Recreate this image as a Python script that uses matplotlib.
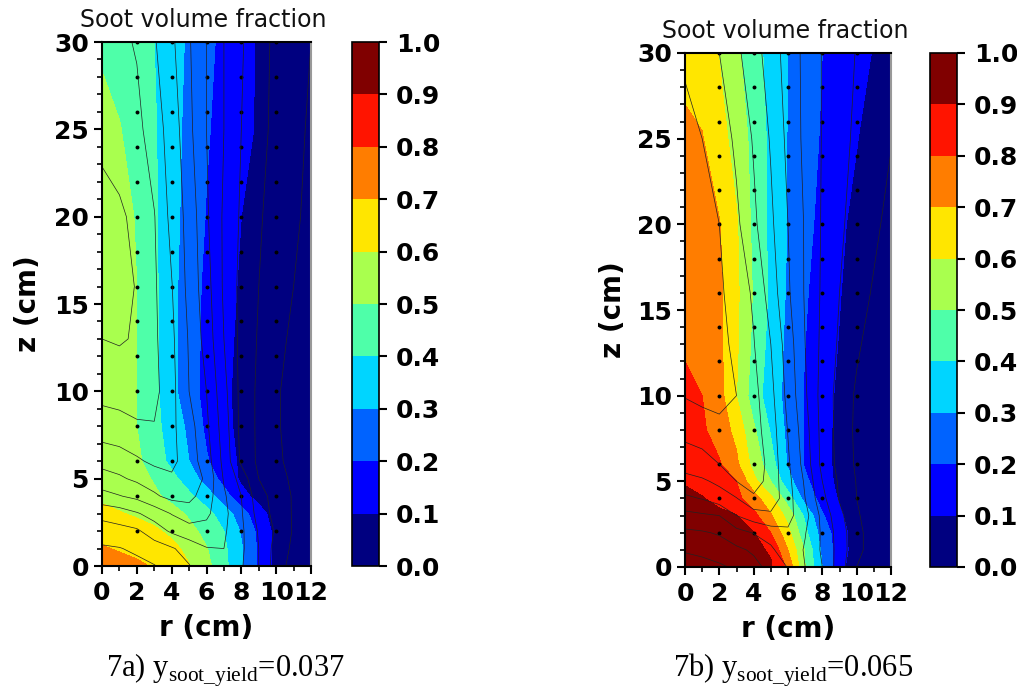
import numpy as np
import matplotlib
matplotlib.use("Agg")
import matplotlib.pyplot as plt
from matplotlib.ticker import MultipleLocator

plt.rcParams['mathtext.fontset'] = 'custom'
plt.rcParams['mathtext.rm'] = 'Liberation Serif:normal'
plt.rcParams['font.family'] = 'DejaVu Sans'
plt.rcParams['font.weight'] = 'bold'
plt.rcParams['axes.labelweight'] = 'bold'

r_grid = [0, 1, 2, 3, 4, 5, 6, 7, 8, 9, 10, 11, 12]
z_grid = [0, 1, 2, 3, 4, 5, 6, 8, 10, 13, 16, 20, 25, 30]
fill_levels = [0.0, 0.1, 0.2, 0.3, 0.4, 0.5, 0.6, 0.7, 0.8, 0.9, 1.0]
line_levels = [0.1, 0.2, 0.3, 0.4, 0.5, 0.6, 0.7, 0.8, 0.9, 1.0]
probe_r = [2, 4, 6, 8, 10]
probe_z = [2, 4, 6, 8, 10, 12, 14, 16, 18, 20, 22, 24, 26, 28, 30]

# 7a) filled field
fill_a = [
    [.76, .74, .72, .69, .65, .605, .53, .43, .31, .185, .07, .03, .02],
    [.71, .69, .67, .645, .625, .575, .505, .42, .31, .185, .07, .03, .02],
    [.66, .645, .63, .615, .58, .53, .47, .40, .29, .175, .07, .03, .02],
    [.62, .605, .59, .565, .54, .485, .43, .355, .245, .135, .06, .03, .02],
    [.585, .57, .55, .52, .47, .42, .35, .24, .13, .07, .04, .03, .02],
    [.59, .57, .54, .49, .43, .35, .26, .165, .085, .05, .03, .02, .02],
    [.59, .565, .52, .45, .375, .30, .21, .14, .085, .05, .03, .02, .02],
    [.59, .57, .50, .43, .355, .28, .18, .12, .08, .05, .03, .02, .01],
    [.59, .575, .50, .425, .33, .24, .17, .115, .08, .05, .03, .02, .01],
    [.59, .58, .50, .42, .33, .245, .175, .12, .085, .055, .03, .02, .01],
    [.59, .58, .50, .42, .33, .245, .18, .13, .09, .06, .035, .02, .01],
    [.57, .55, .49, .415, .335, .26, .195, .145, .10, .07, .04, .02, .01],
    [.52, .505, .46, .41, .34, .27, .21, .165, .125, .09, .05, .03, .015],
    [.49, .46, .43, .40, .34, .285, .225, .175, .13, .09, .05, .03, .015],
]

# 7a) contour lines
line_a = [
    [.22, .25, .27, .295, .34, .395, .46, .47, .41, .30, .15, .06, .04],
    [.285, .295, .32, .355, .39, .44, .495, .50, .42, .30, .16, .08, .05],
    [.355, .37, .385, .45, .515, .56, .565, .515, .42, .29, .185, .09, .05],
    [.43, .45, .49, .54, .605, .65, .62, .53, .41, .26, .165, .09, .05],
    [.567, .595, .625, .685, .73, .73, .65, .515, .40, .24, .16, .09, .05],
    [.658, .685, .72, .75, .785, .77, .68, .49, .36, .20, .14, .08, .05],
    [.733, .75, .785, .82, .825, .75, .65, .47, .28, .18, .12, .07, .04],
    [.856, .87, .89, .895, .82, .74, .62, .45, .27, .18, .11, .07, .04],
    [.93, .935, .94, .93, .83, .70, .60, .43, .27, .18, .11, .07, .04],
    [1.0, 1.01, .99, .92, .82, .69, .56, .40, .27, .19, .13, .08, .04],
    [1.04, 1.03, .995, .915, .805, .67, .54, .385, .27, .20, .15, .10, .05],
    [1.02, 1.01, .985, .905, .77, .665, .515, .385, .285, .21, .165, .12, .07],
    [.985, .97, .93, .845, .76, .625, .50, .40, .30, .23, .175, .13, .085],
    [.94, .925, .89, .81, .72, .61, .50, .40, .31, .235, .18, .14, .10],
]

# 7b) filled field
fill_b = [
    [.99, .98, .97, .95, .93, .91, .78, .50, .30, .13, .04, .02, .01],
    [.98, .97, .95, .93, .92, .89, .70, .49, .275, .15, .05, .02, .01],
    [.97, .95, .93, .915, .905, .80, .63, .425, .255, .145, .05, .02, .01],
    [.95, .935, .92, .905, .83, .71, .565, .38, .21, .115, .05, .02, .01],
    [.915, .905, .875, .825, .745, .625, .45, .26, .165, .09, .05, .02, .01],
    [.895, .87, .835, .80, .63, .50, .335, .22, .135, .08, .04, .02, .01],
    [.87, .855, .81, .72, .565, .44, .29, .19, .125, .08, .04, .02, .01],
    [.84, .815, .755, .67, .515, .39, .275, .19, .125, .08, .04, .02, .01],
    [.82, .80, .735, .60, .45, .35, .27, .19, .13, .085, .05, .02, .01],
    [.79, .77, .72, .615, .475, .365, .275, .20, .145, .095, .05, .02, .01],
    [.78, .76, .72, .62, .49, .38, .285, .21, .155, .105, .055, .02, .01],
    [.77, .74, .705, .61, .475, .375, .295, .23, .17, .12, .07, .03, .01],
    [.72, .705, .64, .56, .47, .375, .295, .24, .19, .14, .105, .05, .02],
    [.67, .65, .595, .52, .44, .365, .30, .25, .20, .165, .13, .095, .04],
]

# 7b) contour lines
line_b = [
    [.25, .265, .285, .315, .37, .43, .505, .50, .40, .25, .10, .05, .03],
    [.31, .325, .35, .38, .415, .48, .57, .49, .385, .26, .125, .06, .03],
    [.38, .39, .41, .465, .505, .55, .585, .505, .385, .255, .125, .06, .03],
    [.47, .485, .50, .60, .655, .68, .63, .535, .37, .23, .11, .06, .03],
    [.58, .605, .655, .695, .78, .76, .64, .50, .33, .19, .10, .06, .03],
    [.667, .685, .72, .80, .85, .76, .63, .485, .30, .185, .095, .06, .03],
    [.736, .76, .80, .85, .865, .765, .615, .46, .27, .17, .085, .05, .03],
    [.835, .85, .87, .885, .84, .75, .595, .44, .265, .165, .08, .05, .03],
    [.905, .925, .935, .90, .83, .73, .57, .415, .26, .165, .085, .05, .03],
    [.94, .935, .925, .88, .805, .70, .55, .40, .275, .185, .115, .06, .03],
    [.96, .94, .915, .86, .785, .655, .515, .39, .285, .20, .14, .09, .05],
    [.96, .94, .90, .82, .72, .62, .50, .39, .29, .215, .165, .12, .07],
    [.93, .90, .855, .78, .69, .59, .475, .375, .295, .235, .18, .14, .105],
    [.885, .86, .80, .72, .645, .55, .46, .375, .295, .245, .195, .155, .125],
]

W, H = 1017, 688
jet10 = plt.get_cmap('jet', 10)


def px_axes(fig, x0, x1, y0, y1):
    return fig.add_axes([x0 / W, 1 - y1 / H, (x1 - x0) / W, (y1 - y0) / H])


def panel(fig, box, cbox, fill, lines, title_y, caption, cap_x, ylab_x):
    ax = px_axes(fig, *box)
    cf = ax.contourf(r_grid, z_grid, fill, levels=fill_levels, cmap=jet10)
    ax.contour(r_grid, z_grid, lines, levels=line_levels, colors='#222222', linewidths=0.5)
    rr, zz = np.meshgrid(probe_r, probe_z)
    ax.scatter(rr.ravel(), zz.ravel(), s=8, c='k', linewidths=0)
    ax.set_xlim(0, 12)
    ax.set_ylim(0, 30)
    ax.xaxis.set_major_locator(MultipleLocator(2))
    ax.xaxis.set_minor_locator(MultipleLocator(1))
    ax.yaxis.set_major_locator(MultipleLocator(5))
    ax.yaxis.set_minor_locator(MultipleLocator(1))
    ax.tick_params(which='major', length=6, width=1.5, labelsize=18)
    ax.tick_params(axis='x', which='major', pad=5)
    ax.tick_params(which='minor', length=3.5, width=1.2)
    for s in ax.spines.values():
        s.set_linewidth(1.5)
    ax.spines['right'].set_color('#999999')
    ax.set_xlabel('r (cm)', fontsize=20, labelpad=6)
    xc = (box[0] + box[1]) / 2
    fig.text(ylab_x / W, 1 - (box[2] + box[3]) / 2 / H, 'z (cm)', fontsize=20,
             rotation=90, ha='center', va='center')
    fig.text((xc - 3) / W, 1 - title_y / H, 'Soot volume fraction', fontsize=17, fontweight='normal',
             ha='center', va='center', color='#111111')
    fig.text(cap_x / W, 1 - 670 / H, caption, fontsize=22, fontweight='normal', family='Liberation Serif',
             ha='center', va='center')

    cax = px_axes(fig, *cbox)
    cb = fig.colorbar(cf, cax=cax, ticks=fill_levels)
    cb.ax.tick_params(length=6, width=1.5, labelsize=18, pad=6)
    cb.ax.set_yticklabels([f'{v:.1f}' for v in fill_levels])
    cb.outline.set_linewidth(1.2)
    return ax


fig = plt.figure(figsize=(W / 100, H / 100), dpi=100)
panel(fig, (102, 311, 42, 566), (352, 379, 42, 566), fill_a, line_a, 20,
      '7a) y$_{\\mathrm{soot\\_yield}}$=0.037', 225, 28)
panel(fig, (685, 891, 53, 567), (930, 957, 53, 567), fill_b, line_b, 31,
      '7b) y$_{\\mathrm{soot\\_yield}}$=0.065', 793, 613)
fig.savefig('out.png', dpi=100)
